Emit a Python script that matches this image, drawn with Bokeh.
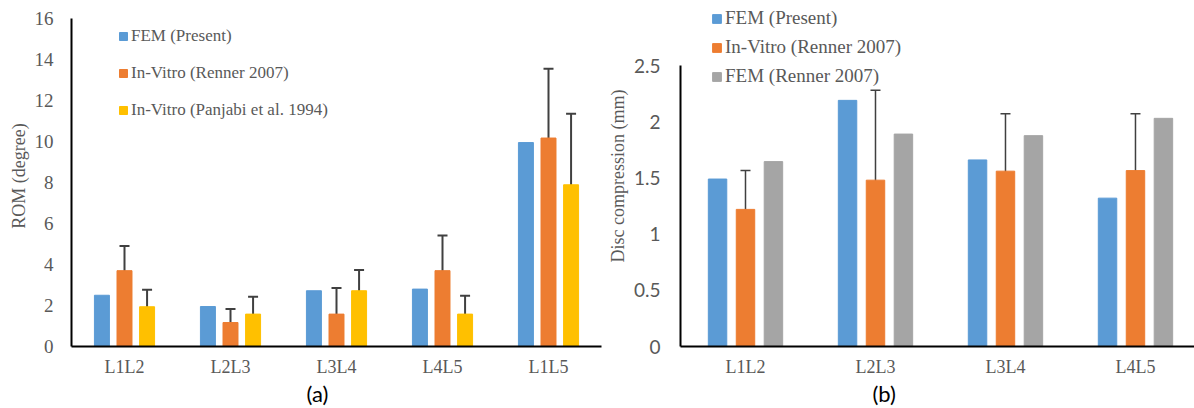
import numpy as np
from bokeh.plotting import figure
from bokeh.models import (ColumnDataSource, Range1d, FixedTicker, Whisker, TeeHead,
                          Legend, LegendItem, Title)
from bokeh.layouts import row
from bokeh.embed import file_html
from bokeh.resources import INLINE

# ---------------- data ----------------
rom_segments = ["L1L2", "L2L3", "L3L4", "L4L5", "L1L5"]
rom_fem_present = [2.5, 1.95, 2.72, 2.8, 9.95]
rom_renner = [3.7, 1.17, 1.58, 3.7, 10.17]
rom_renner_low = [2.64, 0.56, 0.28, 2.07, 6.85]
rom_renner_high = [4.9, 1.83, 2.85, 5.41, 13.55]
rom_panjabi = [1.94, 1.58, 2.72, 1.58, 7.89]
rom_panjabi_low = [1.37, 0.88, 2.07, 0.65, 4.96]
rom_panjabi_high = [2.77, 2.43, 3.73, 2.48, 11.36]
rom_ticks = [0, 2, 4, 6, 8, 10, 12, 14, 16]

dc_segments = ["L1L2", "L2L3", "L3L4", "L4L5"]
dc_fem_present = [1.49, 2.19, 1.66, 1.32]
dc_renner_invitro = [1.22, 1.48, 1.56, 1.565]
dc_renner_invitro_low = [0.88, 0.70, 1.02, 1.06]
dc_renner_invitro_high = [1.565, 2.28, 2.07, 2.07]
dc_renner_fem = [1.645, 1.89, 1.876, 2.03]
dc_ticks = [0, 0.5, 1, 1.5, 2, 2.5]
dc_tick_labels = ["0", "0.5", "1", "1.5", "2", "2.5"]

# ---------------- styles ----------------
BLUE = "#5B9BD5"
ORANGE = "#ED7D31"
YELLOW = "#FFC000"
GRAY = "#A5A5A5"
TXT = "#595959"
ERR = "#404040"
SERIF = "Liberation Serif"
SANS = "Lato"
H = 408
TOP = 5
BOTTOM = 62


def style_axes(p, tick_font, tick_size, y_standoff):
    for ax in (p.xaxis[0], p.yaxis[0]):
        ax.axis_line_color = "black"
        ax.axis_line_width = 2
        ax.major_tick_line_color = None
        ax.minor_tick_line_color = None
        ax.major_tick_out = 0
        ax.major_tick_in = 0
        ax.minor_tick_out = 0
        ax.minor_tick_in = 0
        ax.major_label_text_color = TXT
    p.yaxis.major_label_text_font = tick_font
    p.yaxis.major_label_text_font_size = tick_size
    p.yaxis.major_label_standoff = y_standoff
    p.yaxis.axis_label_text_font = SERIF
    p.yaxis.axis_label_text_font_style = "normal"
    p.yaxis.axis_label_text_font_size = "18px"
    p.yaxis.axis_label_text_color = TXT
    p.yaxis.axis_label_standoff = 3
    p.xaxis.major_label_text_font = SERIF
    p.xaxis.major_label_text_font_size = "18px"
    p.xaxis.major_label_standoff = 10
    p.xaxis.axis_label_standoff = 0
    p.xgrid.visible = False
    p.ygrid.visible = False
    p.outline_line_color = None


def panel_title(p, text, offset):
    t = Title(text=text, align="left", offset=offset, standoff=0, vertical_align="top",
              text_font=SANS, text_font_size="22px", text_font_style="normal",
              text_color="black")
    p.add_layout(t, "below")


# ---------------- left chart (a) ----------------
n1 = len(rom_segments)
x1 = np.arange(n1) + 0.5
w1 = 0.1415
o1 = 0.213

p1 = figure(width=604, height=H, output_backend="svg", toolbar_location=None,
            x_range=Range1d(0, n1), y_range=Range1d(0, 16.636),
            min_border_left=71, min_border_right=3, min_border_top=TOP,
            min_border_bottom=BOTTOM)

src1 = ColumnDataSource(dict(fem=rom_fem_present, ren=rom_renner,
                             ren_lo=rom_renner_low, ren_hi=rom_renner_high,
                             pan=rom_panjabi, pan_lo=rom_panjabi_low, pan_hi=rom_panjabi_high,
                             xb=x1 - o1, xo=x1, xy=x1 + o1))
r1a = p1.vbar(x="xb", top="fem", width=w1, source=src1, color=BLUE)
r1b = p1.vbar(x="xo", top="ren", width=w1, source=src1, color=ORANGE)
r1c = p1.vbar(x="xy", top="pan", width=w1, source=src1, color=YELLOW)

for base, lo, hi in (("xo", "ren_lo", "ren_hi"), ("xy", "pan_lo", "pan_hi")):
    wk = Whisker(source=src1, base=base, lower=lo, upper=hi, dimension="height",
                 line_color=ERR, line_width=2,
                 upper_head=TeeHead(size=10, line_color=ERR, line_width=2),
                 lower_head=TeeHead(size=10, line_color=ERR, line_width=2))
    p1.add_layout(wk)

p1.yaxis.ticker = FixedTicker(ticks=rom_ticks)
p1.yaxis.bounds = (0, 16)
p1.xaxis.ticker = FixedTicker(ticks=list(x1))
p1.xaxis.major_label_overrides = {float(x): s for x, s in zip(x1, rom_segments)}
p1.yaxis.axis_label = "ROM (degree)"
style_axes(p1, SERIF, "19px", 18)

leg1 = Legend(items=[LegendItem(label="FEM (Present)", renderers=[r1a]),
                     LegendItem(label="In-Vitro (Renner 2007)", renderers=[r1b]),
                     LegendItem(label="In-Vitro (Panjabi et al. 1994)", renderers=[r1c])],
              location=(47, 226), orientation="vertical",
              glyph_width=10, glyph_height=10, label_height=20, spacing=17,
              padding=0, margin=0, label_standoff=3,
              label_text_font=SERIF, label_text_font_size="17px", label_text_color=TXT,
              border_line_color=None, background_fill_alpha=0)
p1.add_layout(leg1)
panel_title(p1, "(a)", 235)

# ---------------- right chart (b) ----------------
n2 = len(dc_segments)
x2 = np.arange(n2) + 0.5
w2 = 0.142
o2 = 0.215

p2 = figure(width=590, height=H, output_backend="svg", toolbar_location=None,
            x_range=Range1d(0, 3.954), y_range=Range1d(0, 3.034),
            min_border_left=76, min_border_right=0, min_border_top=TOP,
            min_border_bottom=BOTTOM)

src2 = ColumnDataSource(dict(fem=dc_fem_present, ren=dc_renner_invitro,
                             ren_lo=dc_renner_invitro_low, ren_hi=dc_renner_invitro_high,
                             rfem=dc_renner_fem, xb=x2 - o2, xo=x2, xg=x2 + o2))
r2a = p2.vbar(x="xb", top="fem", width=w2, source=src2, color=BLUE)
r2b = p2.vbar(x="xo", top="ren", width=w2, source=src2, color=ORANGE)
r2c = p2.vbar(x="xg", top="rfem", width=w2, source=src2, color=GRAY)

wk2 = Whisker(source=src2, base="xo", lower="ren_lo", upper="ren_hi", dimension="height",
              line_color=ERR, line_width=1.5,
              upper_head=TeeHead(size=10, line_color=ERR, line_width=1.5),
              lower_head=TeeHead(size=10, line_color=ERR, line_width=1.5))
p2.add_layout(wk2)

p2.yaxis.ticker = FixedTicker(ticks=dc_ticks)
p2.yaxis.major_label_overrides = {float(t): s for t, s in zip(dc_ticks, dc_tick_labels)}
p2.yaxis.bounds = (0, 2.5)
p2.xaxis.ticker = FixedTicker(ticks=list(x2))
p2.xaxis.major_label_overrides = {float(x): s for x, s in zip(x2, dc_segments)}
p2.yaxis.axis_label = "Disc compression (mm)"
style_axes(p2, SANS, "19px", 20)

leg2 = Legend(items=[LegendItem(label="FEM (Present)", renderers=[r2a]),
                     LegendItem(label="In-Vitro (Renner 2007)", renderers=[r2b]),
                     LegendItem(label="FEM (Renner 2007)", renderers=[r2c])],
              location=(31, 259), orientation="vertical",
              glyph_width=11, glyph_height=11, label_height=21, spacing=7,
              padding=0, margin=0, label_standoff=3,
              label_text_font=SERIF, label_text_font_size="19px", label_text_color=TXT,
              border_line_color=None, background_fill_alpha=0)
p2.add_layout(leg2)
panel_title(p2, "(b)", 192)

layout = row(p1, p2, spacing=0)
open("out.html", "w").write(file_html(layout, INLINE))
